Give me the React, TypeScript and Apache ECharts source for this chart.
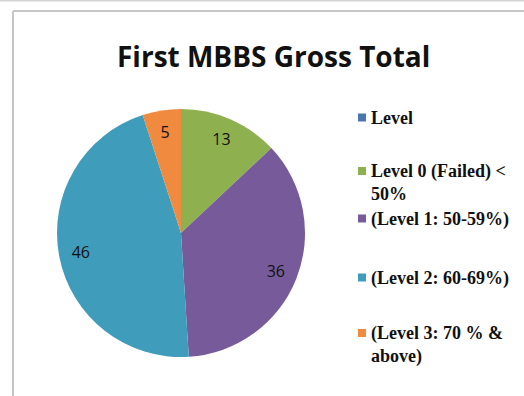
import React, { useEffect, useRef } from "react";
import * as echarts from "echarts";

const categories = [
  "Level",
  "Level 0 (Failed) < 50%",
  "(Level 1: 50-59%)",
  "(Level 2: 60-69%)",
  "(Level 3: 70 % & above)",
];
const values = [0, 13, 36, 46, 5];
const colors = ["#4A76AE", "#8FB04F", "#765A99", "#3F9DBB", "#F08A3E"];
const legendLabels = [
  "Level",
  "\nLevel 0 (Failed) <\n50%",
  "(Level 1: 50-59%)",
  "(Level 2: 60-69%)",
  "\n(Level 3: 70 % &\nabove)",
];
const legendTops = [106, 136.5, 207, 266, 298.5];

export default function App() {
  const ref = useRef<HTMLDivElement>(null);
  useEffect(() => {
    document.body.style.margin = "0";
    const chart = echarts.init(ref.current!, null, { renderer: "svg" });
    const pieData = categories.map((name, i) => ({
      name,
      value: values[i],
      itemStyle: { color: colors[i] },
    }));
    const labelData = categories.map((name, i) => ({
      name,
      value: values[i],
      itemStyle: { color: "rgba(0,0,0,0)" },
      label: { show: values[i] > 0 },
    }));
    const legends = categories.map((name, i) => ({
      data: [name],
      left: 358,
      top: legendTops[i],
      padding: 0,
      itemWidth: 8,
      itemHeight: 8,
      icon: "rect",
      selectedMode: false,
      formatter: () => legendLabels[i],
      textStyle: {
        fontFamily: "Liberation Serif",
        fontWeight: "bold",
        fontSize: 18,
        lineHeight: 23,
        color: "#111",
      },
    }));
    chart.setOption({
      animation: false,
      backgroundColor: "#fff",
      title: {
        text: "First MBBS Gross Total",
        left: 112,
        top: 37,
        textStyle: {
          fontFamily: "Open Sans",
          fontWeight: "bold",
          fontSize: 28,
          color: "#111",
        },
      },
      legend: legends,
      graphic: [
        { type: "line", shape: { x1: 0, y1: 0.5, x2: 524, y2: 0.5 }, style: { stroke: "#d4d4d4", lineWidth: 2 } },
        { type: "line", shape: { x1: 13, y1: 11, x2: 524, y2: 11 }, style: { stroke: "#c6c6c6", lineWidth: 2 } },
        { type: "line", shape: { x1: 13, y1: 11, x2: 13, y2: 396 }, style: { stroke: "#c6c6c6", lineWidth: 2 } },
      ],
      series: [
        {
          type: "pie",
          center: [181, 233],
          radius: [0, 124],
          startAngle: 90,
          clockwise: true,
          silent: true,
          label: { show: false },
          labelLine: { show: false },
          itemStyle: { borderWidth: 0 },
          data: pieData,
        },
        {
          type: "pie",
          center: [181, 233],
          radius: [74, 124],
          startAngle: 90,
          clockwise: true,
          silent: true,
          itemStyle: { borderWidth: 0 },
          labelLine: { show: false },
          label: {
            show: true,
            position: "inside",
            formatter: "{c}",
            fontFamily: "Open Sans",
            fontSize: 16,
            color: "#111",
          },
          data: labelData,
        },
      ],
    });
    return () => chart.dispose();
  }, []);
  return <div ref={ref} style={{ width: 524, height: 396 }} />;
}
